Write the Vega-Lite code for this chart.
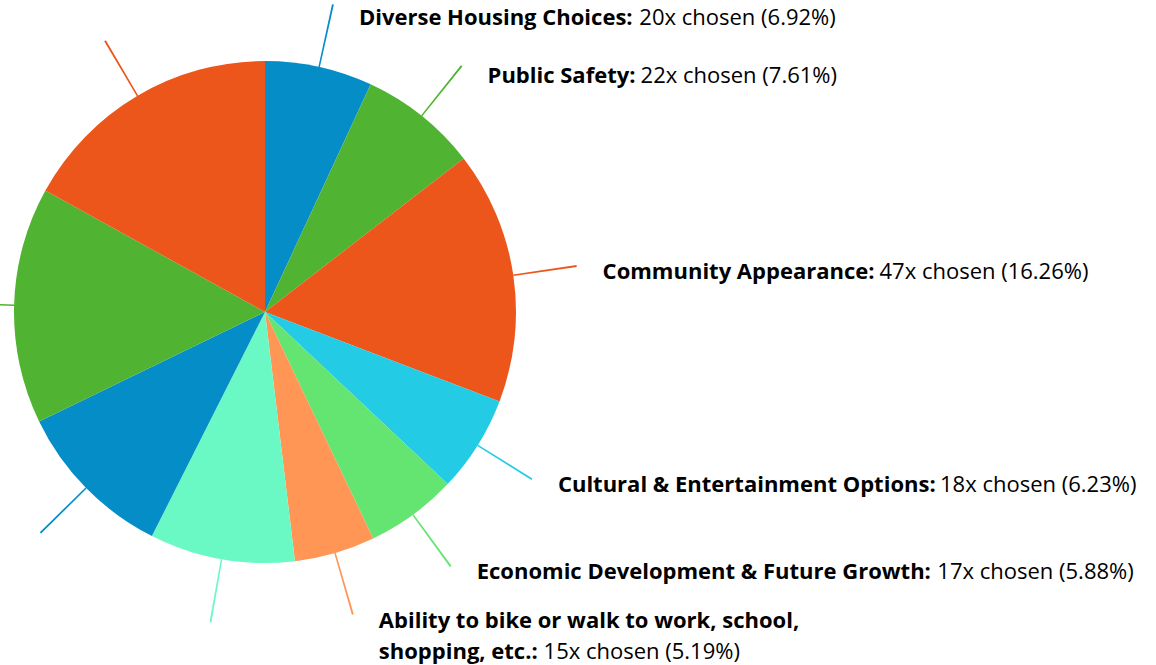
{
  "$schema": "https://vega.github.io/schema/vega-lite/v6.json",
  "width": 530,
  "height": 624,
  "autosize": {"type": "none"},
  "padding": {"left": 0, "top": 0, "right": 626, "bottom": 41},
  "background": "#ffffff",
  "config": {"view": {"stroke": null}},
  "data": {
    "values": [
      {"order": 1, "category": "Diverse Housing Choices", "count": 20, "pct": 6.92},
      {"order": 2, "category": "Public Safety", "count": 22, "pct": 7.61},
      {"order": 3, "category": "Community Appearance", "count": 47, "pct": 16.26},
      {"order": 4, "category": "Cultural & Entertainment Options", "count": 18, "pct": 6.23},
      {"order": 5, "category": "Economic Development & Future Growth", "count": 17, "pct": 5.88},
      {"order": 6, "category": "Ability to bike or walk to work, school,\nshopping, etc.", "count": 15, "pct": 5.19},
      {"order": 7, "category": "Quality of Schools", "count": 27, "pct": 9.34},
      {"order": 8, "category": "Cost of Living", "count": 30, "pct": 10.38},
      {"order": 9, "category": "Parks & Open Space", "count": 44, "pct": 15.22},
      {"order": 10, "category": "Small Town Character", "count": 49, "pct": 16.96}
    ]
  },
  "transform": [
    {"stack": "count", "groupby": [], "sort": [{"field": "order", "order": "ascending"}], "as": ["s0", "s1"]},
    {"calculate": "(datum.s0 + datum.s1) / 2", "as": "mid"},
    {"calculate": "datum.mid - 0.14", "as": "l0"},
    {"calculate": "datum.mid + 0.14", "as": "l1"},
    {"calculate": "datum.category + ':'", "as": "bold"},
    {"calculate": "(indexof(datum.category, '\\n') >= 0 ? '\\n' : '') + datum.count + 'x chosen (' + format(datum.pct, '.2f') + '%)'", "as": "reg"},
    {"calculate": "slice(datum.bold, lastindexof(datum.bold, '\\n') + 1)", "as": "ll"},
    {"calculate": "22 * (0.26 * (length(datum.ll) - length(replace(datum.ll, regexp(' ', 'g'), ''))) + 0.295 * (length(datum.ll) - length(replace(datum.ll, regexp('[ilj:.,]', 'g'), ''))) + 0.40 * (length(datum.ll) - length(replace(datum.ll, regexp('[f]', 'g'), ''))) + 0.43 * (length(datum.ll) - length(replace(datum.ll, regexp('[t]', 'g'), ''))) + 0.449 * (length(datum.ll) - length(replace(datum.ll, regexp('[r]', 'g'), ''))) + 0.50 * (length(datum.ll) - length(replace(datum.ll, regexp('[cz]', 'g'), ''))) + 0.54 * (length(datum.ll) - length(replace(datum.ll, regexp('[s]', 'g'), ''))) + 0.58 * (length(datum.ll) - length(replace(datum.ll, regexp('[aegvxyk]', 'g'), ''))) + 0.629 * (length(datum.ll) - length(replace(datum.ll, regexp('[bdhnopqu]', 'g'), ''))) + 1.04 * (length(datum.ll) - length(replace(datum.ll, regexp('[m]', 'g'), ''))) + 0.843 * (length(datum.ll) - length(replace(datum.ll, regexp('[w]', 'g'), ''))) + 0.84 * (length(datum.ll) - length(replace(datum.ll, regexp('[&]', 'g'), ''))) + 0.74 * (length(datum.ll) - length(replace(datum.ll, regexp('[DHG]', 'g'), ''))) + 0.78 * (length(datum.ll) - length(replace(datum.ll, regexp('[O]', 'g'), ''))) + 0.68 * (length(datum.ll) - length(replace(datum.ll, regexp('[C]', 'g'), ''))) + 0.65 * (length(datum.ll) - length(replace(datum.ll, regexp('[PA]', 'g'), ''))) + 0.56 * (length(datum.ll) - length(replace(datum.ll, regexp('[ESF]', 'g'), ''))))", "as": "bw"}
  ],
  "layer": [
    {
      "mark": {"type": "arc", "outerRadius": 251, "innerRadius": 0},
      "encoding": {
        "theta": {"field": "s0", "type": "quantitative", "stack": null, "scale": {"domain": [0, 289], "range": [0, 6.283185307179586]}},
        "theta2": {"field": "s1"},
        "color": {
          "field": "category",
          "type": "nominal",
          "legend": null,
          "scale": {
            "domain": ["Diverse Housing Choices", "Public Safety", "Community Appearance", "Cultural & Entertainment Options", "Economic Development & Future Growth", "Ability to bike or walk to work, school,\nshopping, etc.", "Quality of Schools", "Cost of Living", "Parks & Open Space", "Small Town Character"],
            "range": ["#058DC7", "#50B432", "#ED561B", "#24CBE5", "#64E572", "#FF9655", "#6AF9C4", "#058DC7", "#50B432", "#ED561B"]
          }
        }
      }
    },
    {
      "mark": {"type": "arc", "outerRadius": 315, "innerRadius": 251},
      "encoding": {
        "theta": {"field": "l0", "type": "quantitative", "stack": null},
        "theta2": {"field": "l1"},
        "color": {"field": "category", "type": "nominal", "legend": null}
      }
    },
    {
      "transform": [{"filter": "datum.order <= 6"}],
      "mark": {"type": "text", "radius": 315, "dx": 26, "dy": {"expr": "13 + 8 * pow(max(0, cos(datum.mid / 289 * 2 * PI)), 3)"}, "align": "left", "baseline": "alphabetic", "font": "Open Sans", "fontSize": 22, "fontWeight": "bold", "lineBreak": "\n", "lineHeight": 31, "color": "#000000"},
      "encoding": {
        "theta": {"field": "mid", "type": "quantitative", "stack": null},
        "text": {"field": "bold", "type": "nominal"}
      }
    },
    {
      "transform": [{"filter": "datum.order <= 6"}],
      "mark": {"type": "text", "radius": 315, "dx": {"expr": "32 + datum.bw"}, "dy": {"expr": "13 + 8 * pow(max(0, cos(datum.mid / 289 * 2 * PI)), 3)"}, "align": "left", "baseline": "alphabetic", "font": "Open Sans", "fontSize": 22, "fontWeight": "normal", "lineBreak": "\n", "lineHeight": 31, "color": "#000000"},
      "encoding": {
        "theta": {"field": "mid", "type": "quantitative", "stack": null},
        "text": {"field": "reg", "type": "nominal"}
      }
    }
  ]
}
